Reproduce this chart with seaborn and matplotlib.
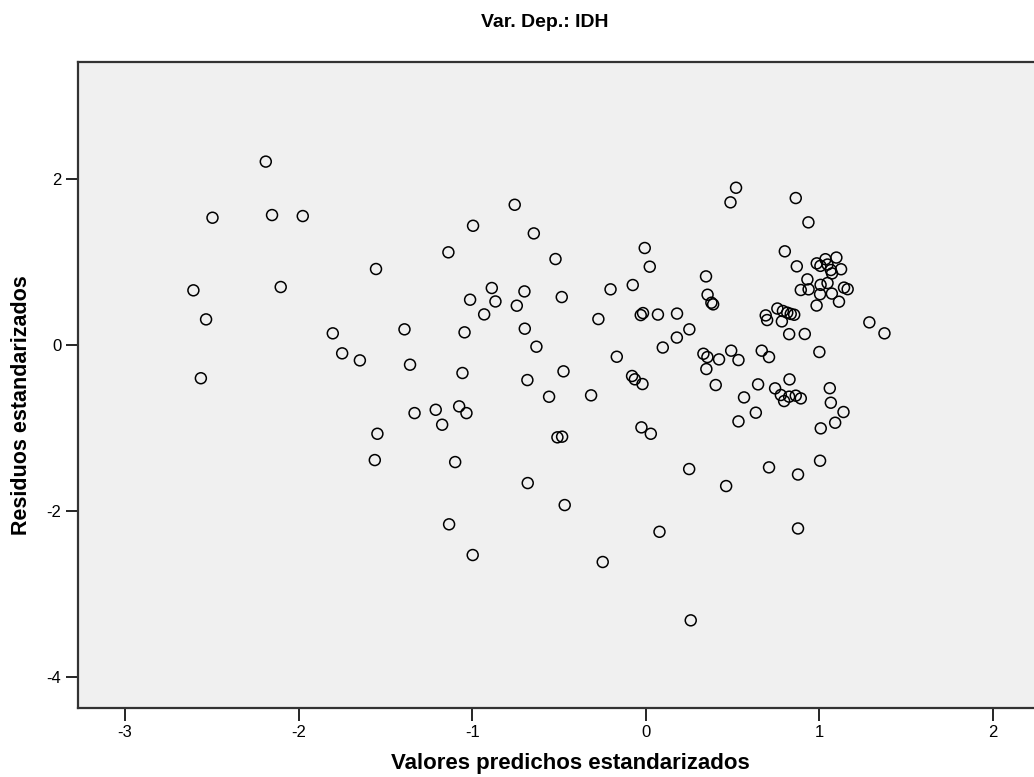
import numpy as np
import pandas as pd
import matplotlib
matplotlib.use("Agg")
import matplotlib.pyplot as plt
import seaborn as sns

# Valors predits i residus estandarditzats (llegits del grafic)
pred = [
    -2.189, -2.496, -2.153, -1.976, -1.137, -1.554, -2.606, -2.103, -2.533, -1.803,
    -1.390, -1.749, -1.647, -1.358, -2.563, -1.332, -1.210, -1.173, -1.546, -1.561,
    -1.133, -1.098,
    -0.755, -0.995, -0.645, -0.520, -0.006, 0.023, -0.887, -0.699, -1.012, -0.866,
    -0.484, -0.203, -0.075, -0.743, -0.931, -0.029, -0.016, 0.070, 0.180, 0.251,
    0.179, 0.098, -0.273, -1.044, -0.697, -0.630, -0.167, -1.056, -0.682, -0.474,
    -0.079, -0.063, -0.019, -0.557, -0.315, -1.075, -1.033, -0.509, -0.482, -0.025,
    0.029, -0.680, 0.250, -0.467, -0.997, 0.079, -0.248, 0.259,
    0.520, 0.488, 0.864, 0.937, 0.801, 0.870, 0.985, 1.006, 1.035, 1.047,
    1.066, 1.098, 1.125, 1.073, 0.931, 0.893, 0.938, 1.007, 1.047, 1.004,
    1.072, 1.142, 1.163, 0.984, 1.113, 1.288, 1.375, 0.347, 0.356, 0.378,
    0.388, 0.758, 0.691, 0.699, 0.790, 0.815, 0.835, 0.855, 0.784, 0.826,
    0.916, 1.000, 0.332, 0.355, 0.422, 0.349, 0.492, 0.534, 0.668, 0.710,
    0.403, 0.647, 0.745, 0.828, 1.060, 0.566, 0.634, 0.534, 0.778, 0.797,
    0.826, 0.864, 0.893, 1.066, 1.139, 1.091, 1.008, 1.004, 0.463, 0.710,
    0.877, 0.877,
]
resid = [
    2.210, 1.534, 1.566, 1.554, 1.117, 0.916, 0.659, 0.699, 0.309, 0.141,
    0.189, -0.100, -0.185, -0.237, -0.400, -0.820, -0.780, -0.960, -1.069, -1.386,
    -2.160, -1.410,
    1.690, 1.437, 1.345, 1.036, 1.169, 0.944, 0.687, 0.646, 0.546, 0.525,
    0.578, 0.671, 0.723, 0.474, 0.369, 0.361, 0.385, 0.367, 0.379, 0.189,
    0.090, -0.030, 0.313, 0.153, 0.197, -0.020, -0.141, -0.337, -0.422, -0.317,
    -0.373, -0.413, -0.470, -0.623, -0.606, -0.739, -0.820, -1.112, -1.104, -0.992,
    -1.069, -1.663, -1.494, -1.928, -2.530, -2.250, -2.614, -3.317,
    1.895, 1.719, 1.771, 1.478, 1.129, 0.948, 0.984, 0.954, 1.034, 0.970,
    0.904, 1.054, 0.913, 0.863, 0.791, 0.663, 0.671, 0.725, 0.747, 0.612,
    0.620, 0.692, 0.673, 0.476, 0.522, 0.273, 0.141, 0.827, 0.606, 0.510,
    0.490, 0.440, 0.357, 0.301, 0.410, 0.390, 0.375, 0.365, 0.285, 0.131,
    0.133, -0.084, -0.105, -0.145, -0.173, -0.289, -0.068, -0.181, -0.068, -0.145,
    -0.482, -0.474, -0.522, -0.414, -0.520, -0.631, -0.815, -0.920, -0.602, -0.675,
    -0.622, -0.610, -0.643, -0.695, -0.807, -0.936, -1.004, -1.394, -1.699, -1.474,
    -1.560, -2.210,
]

x_ticks = [-3, -2, -1, 0, 1, 2]
y_ticks = [2, 0, -2, -4]

df = pd.DataFrame({"pred": pred, "resid": resid})

sns.set_style("white")
narrow = ["Liberation Sans Narrow", "Liberation Sans", "DejaVu Sans"]
plt.rcParams["font.family"] = narrow
plt.rcParams["text.color"] = "black"

fig = plt.figure(figsize=(10.34, 7.77), dpi=100)
ax = fig.add_axes([0.0754, 0.0888, 0.9304, 0.8314])
ax.set_facecolor("#f0f0f0")

sns.scatterplot(data=df, x="pred", y="resid", ax=ax, marker="o", s=62,
                facecolor="none", edgecolor="black", linewidth=1.1, legend=False)

ax.set_xlim(-3.271, 2.271)
ax.set_ylim(-4.373, 3.41)
ax.set_xticks(x_ticks)
ax.set_yticks(y_ticks)
ax.set_xticklabels([str(t) for t in x_ticks])
ax.set_yticklabels([str(t) for t in y_ticks])
ax.tick_params(axis="both", direction="out", length=9, width=1.2,
               colors="black", labelsize=12, pad=3, bottom=True, left=True)
for sp in ax.spines.values():
    sp.set_color("#333333")
    sp.set_linewidth(1.6)
ax.set_xlabel("")
ax.set_ylabel("")

fig.text(0.527, 0.971, "Var. Dep.: IDH", ha="center", va="center",
         fontsize=14, fontweight="bold", color="black")
fig.text(0.552, 0.018, "Valores predichos estandarizados", ha="center",
         va="center", fontsize=16, fontweight="bold", color="black")
fig.text(0.021, 0.479, "Residuos estandarizados", ha="center", va="center",
         rotation=90, fontsize=15.5, fontweight="bold", color="black",
         family=["Liberation Sans", "DejaVu Sans"])

fig.savefig("out.png", dpi=100)
